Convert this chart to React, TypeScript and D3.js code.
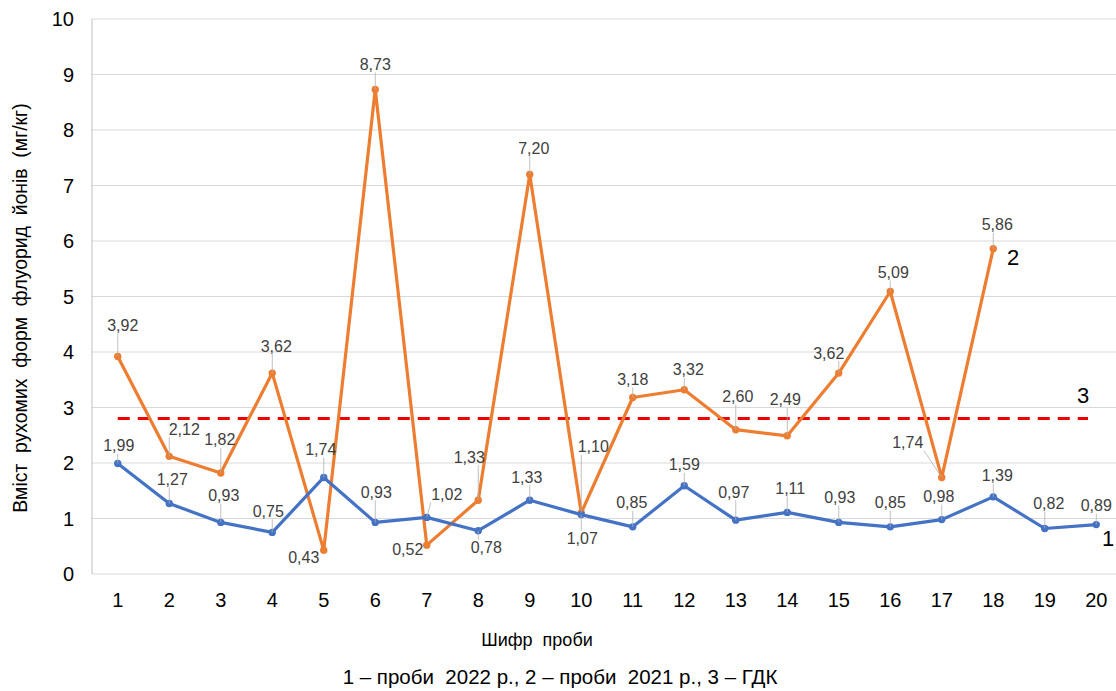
import React from "react";
import * as d3 from "d3";

const categories = ["1","2","3","4","5","6","7","8","9","10","11","12","13","14","15","16","17","18","19","20"];
const series2022 = [1.99,1.27,0.93,0.75,1.74,0.93,1.02,0.78,1.33,1.07,0.85,1.59,0.97,1.11,0.93,0.85,0.98,1.39,0.82,0.89];
const series2021 = [3.92,2.12,1.82,3.62,0.43,8.73,0.52,1.33,7.20,1.10,3.18,3.32,2.60,2.49,3.62,5.09,1.74,5.86];
const limitValue = 2.8;
const yTicks = [0,1,2,3,4,5,6,7,8,9,10];
const yTitle = "Вміст  рухомих  форм  флуорид  йонів  (мг/кг)";
const xTitle = "Шифр  проби";
const footer = "1 – проби  2022 р., 2 – проби  2021 р., 3 – ГДК";

// label offsets (layout only)
const offs2022: [number, number][] = [[1,-18],[3,-24],[3,-27],[-4,-21],[-3,-28],[1,-30],[20,-23],[8,17],[-3,-23],[1,24],[-1,-24],[0,-21],[-2,-28],[3,-24],[1,-25],[0,-24],[-3,-23],[4,-21],[4,-25],[0,-19]];
const offs2021: [number, number][] = [[5,-31],[15,-27],[-1,-33],[4,-27],[-20,7],[0,-25],[-19,4],[-9,-43],[4,-26],[12,-66],[0,-18],[4,-20],[2,-33],[-2,-36],[-10,-20],[3,-19],[-34,-35],[4,-24]];

const W = 1116, H = 691;
const left = 92, right = 1122, top = 19, bottom = 574;

function fmt(v: number) {
  return v.toFixed(2).replace(".", ",");
}

export default function App() {
  const x = d3.scaleBand<string>().domain(categories).range([left, right]).padding(0);
  const cx = (i: number) => (x(categories[i]) as number) + x.bandwidth() / 2;
  const y = d3.scaleLinear().domain([0, 10]).range([bottom, top]);

  const line = d3.line<number>().x((_, i) => cx(i)).y((d) => y(d));

  const labelFont = "'Liberation Sans', Arial, sans-serif";

  const renderLabels = (data: number[], offs: [number, number][], key: string) =>
    data.map((v, i) => {
      const px = cx(i), py = y(v);
      const [dx, dy] = offs[i];
      const lx = px + dx, ly = py + dy;
      const hw = 16, hh = 8;
      const nx = Math.max(lx - hw, Math.min(px, lx + hw));
      const ny = Math.max(ly - hh, Math.min(py, ly + hh));
      const dist = Math.hypot(nx - px, ny - py);
      const showLeader = dist > 8;
      return (
        <g key={key + i}>
          {showLeader && (
            <line x1={px} y1={py} x2={nx} y2={ny} stroke="#b0b0b0" strokeWidth={0.8} />
          )}
          <text x={lx} y={ly} textAnchor="middle" dominantBaseline="central" fontSize={16} fill="#404040" fontFamily={labelFont}>
            {fmt(v)}
          </text>
        </g>
      );
    });

  return (
    <svg width={W} height={H} style={{ display: "block", position: "absolute", left: 0, top: 0, background: "#fff" }} fontFamily={labelFont}>
      <rect x={0} y={0} width={W} height={H} fill="#fff" />
      {yTicks.map((t) => (
        <g key={"g" + t}>
          <line x1={left} x2={right} y1={y(t)} y2={y(t)} stroke="#d9d9d9" strokeWidth={1} />
          <text x={74} y={y(t)} textAnchor="end" dominantBaseline="central" fontSize={20} fill="#000">{t}</text>
        </g>
      ))}
      <line x1={left} x2={left} y1={top} y2={bottom} stroke="#bfbfbf" strokeWidth={1} />
      {categories.map((c, i) => (
        <text key={"x" + c} x={cx(i)} y={600} textAnchor="middle" dominantBaseline="central" fontSize={20} fill="#000">{c}</text>
      ))}
      <text x={20} y={308} transform="rotate(-90 20 308)" textAnchor="middle" dominantBaseline="central" fontSize={19.4} fill="#000" style={{ whiteSpace: "pre" }}>{yTitle}</text>
      <text x={537} y={640} textAnchor="middle" dominantBaseline="central" fontSize={18} fill="#000" style={{ whiteSpace: "pre" }}>{xTitle}</text>
      <text x={560} y={676} textAnchor="middle" dominantBaseline="central" fontSize={20.5} fill="#000" style={{ whiteSpace: "pre" }}>{footer}</text>

      <line x1={cx(0)} x2={1088} y1={y(limitValue)} y2={y(limitValue)} stroke="#f00000" strokeWidth={3} strokeDasharray="12 8" />

      <path d={line(series2021) as string} fill="none" stroke="#ed7d31" strokeWidth={3.2} strokeLinejoin="round" />
      {series2021.map((v, i) => (
        <circle key={"o" + i} cx={cx(i)} cy={y(v)} r={3.7} fill="#ed7d31" />
      ))}
      <path d={line(series2022) as string} fill="none" stroke="#4472c4" strokeWidth={3.2} strokeLinejoin="round" />
      {series2022.map((v, i) => (
        <circle key={"b" + i} cx={cx(i)} cy={y(v)} r={3.7} fill="#4472c4" />
      ))}

      {renderLabels(series2021, offs2021, "la")}
      {renderLabels(series2022, offs2022, "lb")}

      <text x={1108} y={538} textAnchor="middle" dominantBaseline="central" fontSize={22} fill="#000">1</text>
      <text x={1013} y={257} textAnchor="middle" dominantBaseline="central" fontSize={22} fill="#000">2</text>
      <text x={1083} y={395} textAnchor="middle" dominantBaseline="central" fontSize={22} fill="#000">3</text>
    </svg>
  );
}
